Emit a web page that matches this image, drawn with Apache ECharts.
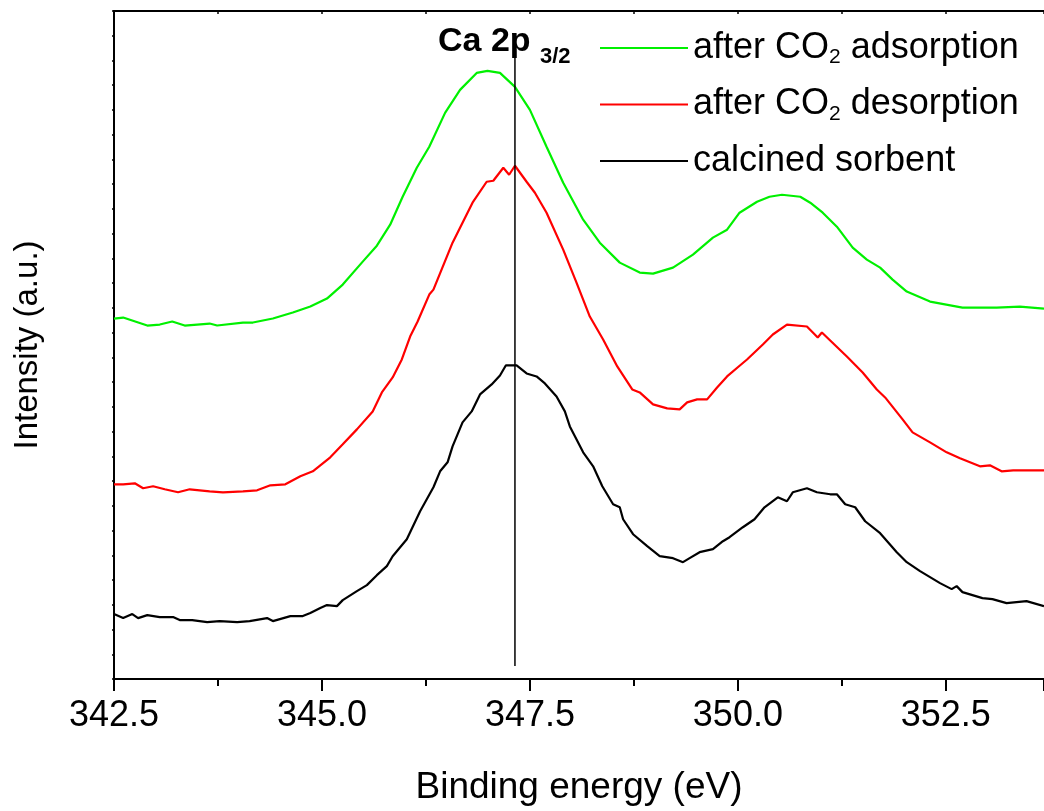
<!DOCTYPE html>
<html>
<head>
<meta charset="utf-8">
<script src="https://cdn.jsdelivr.net/npm/echarts@6/dist/echarts.min.js"></script>
<style>
  html, body { margin: 0; padding: 0; background: #fff; }
  #chart { width: 1044px; height: 811px; }
</style>
</head>
<body>
<div id="chart"></div>
<script>
// binding energy (eV) and intensity (a.u.)
const adsEnergy = [342.5, 342.61, 342.9, 343.05, 343.2, 343.35, 343.65, 343.74, 344.05, 344.17, 344.41, 344.65, 344.86, 345.06, 345.25, 345.49, 345.66, 345.82, 345.97, 346.14, 346.29, 346.48, 346.66, 346.86, 346.99, 347.14, 347.32, 347.5, 347.7, 347.9, 348.14, 348.34, 348.58, 348.82, 348.98, 349.22, 349.46, 349.7, 349.87, 350.02, 350.23, 350.38, 350.53, 350.75, 350.87, 351.02, 351.19, 351.38, 351.55, 351.71, 351.86, 352.03, 352.31, 352.7, 353.11, 353.39, 353.68];
const adsValue = [361, 362, 354, 355, 358, 354, 356, 354, 357, 357, 361, 367, 373, 381, 395, 418, 434, 455, 483, 512, 533, 567, 590, 607, 609, 607, 593, 570, 533, 497, 460, 437, 417, 407, 406, 412, 425, 442, 450, 467, 478, 483, 485, 483, 477, 467, 453, 432, 420, 412, 400, 388, 378, 372, 372, 373, 371];

const desEnergy = [342.5, 342.61, 342.75, 342.85, 342.97, 343.11, 343.27, 343.41, 343.65, 343.81, 344.05, 344.22, 344.38, 344.56, 344.74, 344.89, 345.1, 345.25, 345.42, 345.61, 345.72, 345.85, 345.96, 346.06, 346.15, 346.29, 346.34, 346.57, 346.81, 346.98, 347.06, 347.18, 347.25, 347.32, 347.46, 347.56, 347.7, 347.9, 348.06, 348.22, 348.38, 348.55, 348.73, 348.82, 348.98, 349.15, 349.3, 349.39, 349.51, 349.63, 349.75, 349.87, 350.01, 350.11, 350.3, 350.42, 350.59, 350.83, 350.96, 351.01, 351.11, 351.31, 351.5, 351.67, 351.77, 351.98, 352.1, 352.31, 352.51, 352.67, 352.91, 353.03, 353.17, 353.31, 353.68];
const desValue = [195, 195, 196, 191, 193, 190, 187, 190, 188, 187, 188, 189, 194, 195, 203, 208, 222, 235, 250, 268, 287, 302, 320, 343, 358, 385, 390, 437, 477, 498, 499, 512, 505, 514, 498, 487, 467, 430, 397, 363, 340, 313, 290, 287, 275, 271, 270, 277, 280, 280, 292, 303, 313, 320, 335, 345, 355, 353, 342, 347, 339, 323, 307, 290, 282, 260, 247, 237, 227, 221, 213, 214, 208, 209, 209];

const calEnergy = [342.5, 342.61, 342.72, 342.79, 342.9, 343.05, 343.21, 343.29, 343.44, 343.62, 343.77, 343.98, 344.13, 344.34, 344.41, 344.62, 344.77, 344.86, 344.98, 345.06, 345.18, 345.25, 345.42, 345.54, 345.66, 345.78, 345.85, 346.02, 346.18, 346.34, 346.42, 346.51, 346.57, 346.69, 346.8, 346.9, 347.04, 347.14, 347.21, 347.34, 347.46, 347.58, 347.68, 347.82, 347.92, 347.98, 348.14, 348.26, 348.37, 348.5, 348.58, 348.62, 348.74, 348.91, 349.06, 349.22, 349.34, 349.42, 349.54, 349.7, 349.82, 349.9, 350.06, 350.2, 350.32, 350.48, 350.59, 350.66, 350.83, 350.95, 351.11, 351.19, 351.29, 351.41, 351.53, 351.71, 351.91, 352.03, 352.19, 352.43, 352.57, 352.63, 352.7, 352.94, 353.06, 353.23, 353.47, 353.68];
const calValue = [65, 61, 65, 61, 64, 62, 62, 59, 59, 57, 58, 57, 58, 61, 58, 63, 63, 66, 71, 74, 73, 79, 88, 94, 104, 113, 123, 140, 168, 192, 208, 217, 233, 257, 268, 285, 295, 304, 314, 314, 306, 303, 296, 283, 268, 253, 227, 213, 193, 175, 172, 160, 145, 133, 123, 121, 117, 121, 127, 130, 138, 142, 152, 160, 172, 182, 178, 187, 191, 187, 185, 185, 175, 172, 158, 146, 127, 117, 108, 96, 90, 93, 87, 81, 80, 76, 78, 73];

// Ca 2p3/2 marker
const peakEnergy = [347.32, 347.32];
const peakValue = [13, 622];

const seriesNames = ['after CO2 adsorption', 'after CO2 desorption', 'calcined sorbent'];
const seriesColors = ['#00f000', '#ff0000', '#000000'];

const zip = (xs, ys) => xs.map((x, i) => [x, ys[i]]);

const FONT = 'Liberation Sans, Arial, sans-serif';

const chart = echarts.init(document.getElementById('chart'));

const curve = (idx, data) => ({
	name: seriesNames[idx],
	type: 'line',
	data: data,
	showSymbol: false,
	symbol: 'none',
	smooth: false,
	lineStyle: { color: seriesColors[idx], width: 2.2 },
	itemStyle: { color: seriesColors[idx] },
	z: 3
});

chart.setOption({
	animation: false,
	backgroundColor: '#fff',
	grid: { left: 114, right: 0, top: 11, bottom: 131 },
	legend: {
		orient: 'vertical',
		left: 595,
		top: 25,
		padding: 5,
		itemWidth: 88,
		itemHeight: 2,
		itemGap: 18.5,
		icon: 'rect',
		data: seriesNames,
		formatter: name => {
			const parts = name.split('CO2');
			if (parts.length < 2) return '{t|' + name + '}';
			return '{t|' + parts[0] + 'CO}{s|2}{t|' + parts[1] + '}';
		},
		textStyle: {
			color: '#000',
			fontFamily: FONT,
			rich: {
				t: { fontSize: 36, lineHeight: 40, fontFamily: FONT, color: '#000' },
				s: { fontSize: 21, lineHeight: 40, fontFamily: FONT, color: '#000', verticalAlign: 'bottom', padding: [16, 0, 0, 0] }
			}
		}
	},
	xAxis: [
		{
			type: 'value',
			position: 'bottom',
			min: 342.5,
			max: 353.68,
			interval: 2.5,
			name: 'Binding energy (eV)',
			nameLocation: 'middle',
			nameGap: 90,
			nameTextStyle: { fontSize: 37, fontFamily: FONT, color: '#000' },
			axisLine: { show: true, onZero: false, lineStyle: { color: '#000', width: 2 } },
			axisTick: { show: true, inside: false, length: 12, lineStyle: { color: '#000', width: 2 } },
			minorTick: { show: true, splitNumber: 2, length: 7, lineStyle: { color: '#000', width: 2 } },
			splitLine: { show: false },
			axisLabel: {
				fontSize: 36,
				fontFamily: FONT,
				color: '#000',
				margin: 19,
				showMaxLabel: false,
				formatter: v => v.toFixed(1)
			}
		},
		{
			type: 'value',
			position: 'top',
			min: 342.5,
			max: 353.68,
			interval: 1.25,
			axisLine: { show: true, onZero: false, lineStyle: { color: '#000', width: 2 } },
			axisTick: { show: true, inside: true, length: 3, lineStyle: { color: '#000', width: 1.5 } },
			axisLabel: { show: false },
			splitLine: { show: false }
		}
	],
	yAxis: {
		type: 'value',
		min: 0,
		max: 669,
		interval: 669 / 27,
		name: 'Intensity (a.u.)',
		nameLocation: 'middle',
		nameGap: 70,
		nameTextStyle: { fontSize: 33, fontFamily: FONT, color: '#000' },
		axisLine: { show: true, onZero: false, lineStyle: { color: '#000', width: 2 } },
		axisTick: { show: true, inside: false, length: 2, lineStyle: { color: '#000', width: 1.5 } },
		axisLabel: { show: false },
		splitLine: { show: false }
	},
	graphic: [
		{
			type: 'text',
			left: 438,
			top: 25,
			style: { text: 'Ca 2p', fontSize: 34, fontWeight: 'bold', fontFamily: FONT, fill: '#000' }
		},
		{
			type: 'text',
			left: 540,
			top: 46,
			style: { text: '3/2', fontSize: 22, fontWeight: 'bold', fontFamily: FONT, fill: '#000' }
		}
	],
	series: [
		curve(0, zip(adsEnergy, adsValue)),
		curve(1, zip(desEnergy, desValue)),
		curve(2, zip(calEnergy, calValue)),
		{
			name: 'Ca 2p3/2',
			type: 'line',
			data: zip(peakEnergy, peakValue),
			showSymbol: false,
			symbol: 'none',
			lineStyle: { color: '#000', width: 1.5 },
			z: 4
		}
	]
});
</script>
</body>
</html>
